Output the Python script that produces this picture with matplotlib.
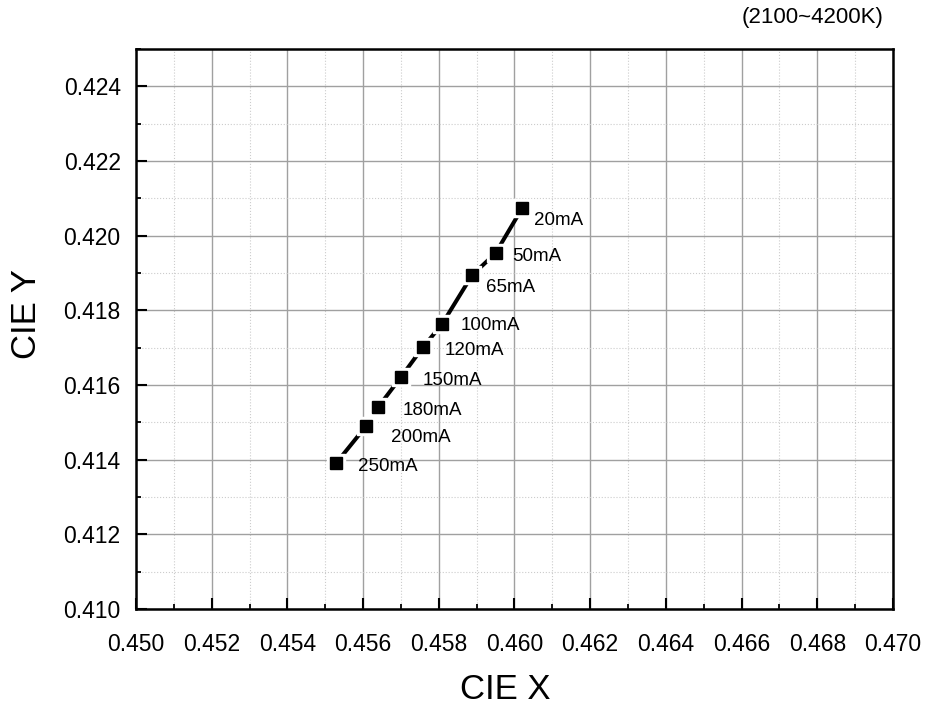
import matplotlib.pyplot as plt
from matplotlib.ticker import MultipleLocator

plt.rcParams['font.family'] = ['Liberation Sans', 'DejaVu Sans']

cie_x = [0.46020, 0.45950, 0.45888, 0.45808, 0.45758, 0.45700, 0.45640, 0.45608, 0.45529]
cie_y = [0.42073, 0.41953, 0.41894, 0.41762, 0.41701, 0.41621, 0.41541, 0.41490, 0.41391]
currents = ["20mA", "50mA", "65mA", "100mA", "120mA", "150mA", "180mA", "200mA", "250mA"]
# label offsets in pixels (dx right, dy down)
label_offsets = [(12, 12), (17, 3), (14, 12), (19, 1), (22, 3), (22, 3), (24, 3), (25, 11), (22, 3)]


def main():
    fig = plt.figure(figsize=(9.25, 7.09), dpi=100)
    ax = fig.add_axes([0.147, 0.141, 0.8184, 0.790])

    ax.plot(cie_x, cie_y, color="black", linewidth=2.9, zorder=3)
    ax.plot(cie_x, cie_y, linestyle="none", marker="s", markersize=13.5,
            color="white", zorder=4)
    ax.plot(cie_x, cie_y, linestyle="none", marker="s", markersize=8.2,
            color="black", zorder=5)

    for x, y, text, (dx, dy) in zip(cie_x, cie_y, currents, label_offsets):
        ax.annotate(text, (x, y), xytext=(dx, -dy), textcoords="offset pixels",
                    fontsize=13.5, ha="left", va="center", zorder=6)

    ax.set_xlim(0.450, 0.470)
    ax.set_ylim(0.410, 0.425)
    ax.xaxis.set_major_locator(MultipleLocator(0.002))
    ax.xaxis.set_minor_locator(MultipleLocator(0.001))
    ax.yaxis.set_major_locator(MultipleLocator(0.002))
    ax.yaxis.set_minor_locator(MultipleLocator(0.001))
    ax.xaxis.set_major_formatter(plt.FormatStrFormatter("%.3f"))
    ax.yaxis.set_major_formatter(plt.FormatStrFormatter("%.3f"))

    ax.grid(which="major", color="#a0a0a0", linewidth=1.0, linestyle="-")
    ax.grid(which="minor", color="#cccccc", linewidth=0.8, linestyle=":")
    ax.set_axisbelow(True)

    ax.tick_params(which="major", direction="in", length=8, width=1.5,
                   labelsize=16.5, top=False, right=False)
    ax.tick_params(which="minor", direction="in", length=3.8, width=1.3,
                   top=False, right=False)
    ax.tick_params(axis="x", which="major", pad=17)
    ax.tick_params(axis="y", which="major", pad=11)
    for spine in ax.spines.values():
        spine.set_linewidth(1.8)

    ax.set_xlabel("CIE X", fontsize=25, va="center")
    ax.set_ylabel("CIE Y", fontsize=25, va="center")
    ax.xaxis.set_label_coords(0.4875, -0.143)
    ax.yaxis.set_label_coords(-0.145, 0.527)

    fig.text(0.955, 0.975, "(2100~4200K)", fontsize=16, ha="right", va="center")

    fig.savefig("out.png", dpi=100)


if __name__ == "__main__":
    main()
